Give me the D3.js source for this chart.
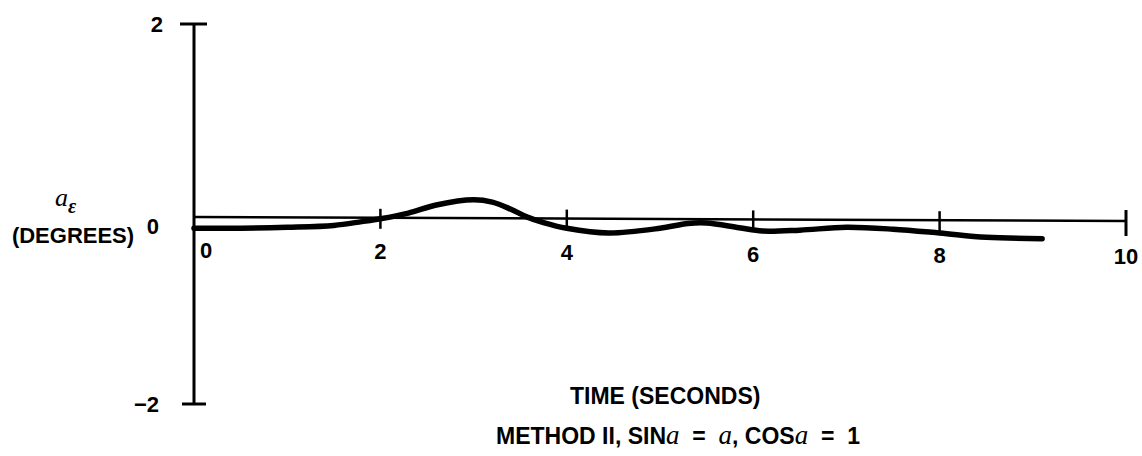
<!DOCTYPE html>
<html>
<head>
<meta charset="utf-8">
<script src="https://cdn.jsdelivr.net/npm/d3@7"></script>
<style>
  body { margin: 0; background: #fff; }
  svg { display: block; }
  text { font-family: "Liberation Sans", Arial, sans-serif; font-weight: bold; fill: #000; }
</style>
</head>
<body>
<svg id="chart" width="1142" height="456"></svg>
<script>
// time in seconds, error angle in degrees
var times = [0, 0.5, 1, 1.5, 1.8, 2, 2.3, 2.6, 3, 3.2, 3.4, 3.57, 3.75, 4, 4.45, 5, 5.3, 5.5, 5.85, 6.1, 6.5, 7, 7.5, 8, 8.5, 9.1];
var alphaErr = [-0.15, -0.15, -0.14, -0.12, -0.08, -0.05, 0.01, 0.095, 0.15, 0.125, 0.05, -0.03, -0.09, -0.15, -0.2, -0.15, -0.1, -0.095, -0.145, -0.18, -0.17, -0.14, -0.16, -0.2, -0.245, -0.26];
var xTicks = [0, 2, 4, 6, 8, 10];
var yTicks = [2, 0, -2];

var svg = d3.select("#chart");
var x = d3.scaleLinear().domain([0, 10]).range([194, 1126]);
var y = d3.scaleLinear().domain([-2, 2]).range([404, 24]);

// vertical axis with end caps
svg.append("line").attr("x1", x(0)).attr("x2", x(0)).attr("y1", y(2)).attr("y2", y(-2))
  .attr("stroke", "#000").attr("stroke-width", 3);
svg.append("line").attr("x1", x(0) - 14).attr("x2", x(0) + 13).attr("y1", y(2)).attr("y2", y(2))
  .attr("stroke", "#000").attr("stroke-width", 3);
svg.append("line").attr("x1", x(0) - 12).attr("x2", x(0) + 12).attr("y1", y(-2)).attr("y2", y(-2))
  .attr("stroke", "#000").attr("stroke-width", 3);

// horizontal zero axis (slightly tilted like the scan)
svg.append("line").attr("x1", x(0)).attr("x2", x(10)).attr("y1", y(0) + 3).attr("y2", y(0) + 7)
  .attr("stroke", "#000").attr("stroke-width", 2.5);

// x ticks crossing the axis
svg.selectAll(".xt").data(xTicks.slice(1)).enter().append("line")
  .attr("x1", d => x(d)).attr("x2", d => x(d))
  .attr("y1", d => y(0) - (d == 10 ? 8 : 6) + d * 0.4).attr("y2", d => y(0) + (d == 10 ? 18 : 14) + d * 0.4)
  .attr("stroke", "#000").attr("stroke-width", d => d == 10 ? 3 : 2.5);

svg.selectAll(".xl").data(xTicks).enter().append("text")
  .attr("x", d => d == 0 ? x(d) + 12 : x(d))
  .attr("y", d => 258 + d * 0.6)
  .attr("text-anchor", "middle")
  .attr("font-size", 22)
  .text(d => d);

svg.selectAll(".yl").data(yTicks).enter().append("text")
  .attr("x", d => d == 2 ? 163 : 159)
  .attr("y", d => d == 0 ? y(d) + 20 : y(d) + 8)
  .attr("text-anchor", "end")
  .attr("font-size", 22)
  .text(d => d == -2 ? "\u22122" : d);

// the response trace
var line = d3.line().x(d => x(d[0])).y(d => y(d[1])).curve(d3.curveCatmullRom.alpha(0.5));
svg.append("path")
  .datum(times.map((t, i) => [t, alphaErr[i]]))
  .attr("d", line)
  .attr("fill", "none").attr("stroke", "#000").attr("stroke-width", 5.5)
  .attr("stroke-linecap", "round");

// y label
var ya = svg.append("text").attr("x", 55).attr("y", 206).attr("font-size", 26);
ya.append("tspan").attr("font-family", "Liberation Serif, serif").attr("font-style", "italic").attr("font-weight", "normal").text("a");
ya.append("tspan").attr("dy", 7).attr("font-size", 20).attr("font-family", "Liberation Serif, serif").attr("font-style", "italic").text("\u03b5");
svg.append("text").attr("x", 73).attr("y", 243).attr("text-anchor", "middle").attr("font-size", 22).text("(DEGREES)");

// x label and caption
svg.append("text").attr("x", 570).attr("y", 404).attr("font-size", 23).text("TIME (SECONDS)");
var cap = svg.append("text").attr("x", 678).attr("y", 444).attr("text-anchor", "middle").attr("font-size", 23)
  .attr("xml:space", "preserve").style("white-space", "pre");
cap.append("tspan").text("METHOD II, SIN");
cap.append("tspan").attr("font-family", "Liberation Serif, serif").attr("font-style", "italic").attr("font-weight", "normal").attr("font-size", 27).text("a");
cap.append("tspan").text("  =  ");
cap.append("tspan").attr("font-family", "Liberation Serif, serif").attr("font-style", "italic").attr("font-weight", "normal").attr("font-size", 27).text("a");
cap.append("tspan").text(", COS");
cap.append("tspan").attr("font-family", "Liberation Serif, serif").attr("font-style", "italic").attr("font-weight", "normal").attr("font-size", 27).text("a");
cap.append("tspan").text("  =  1");
</script>
</body>
</html>
